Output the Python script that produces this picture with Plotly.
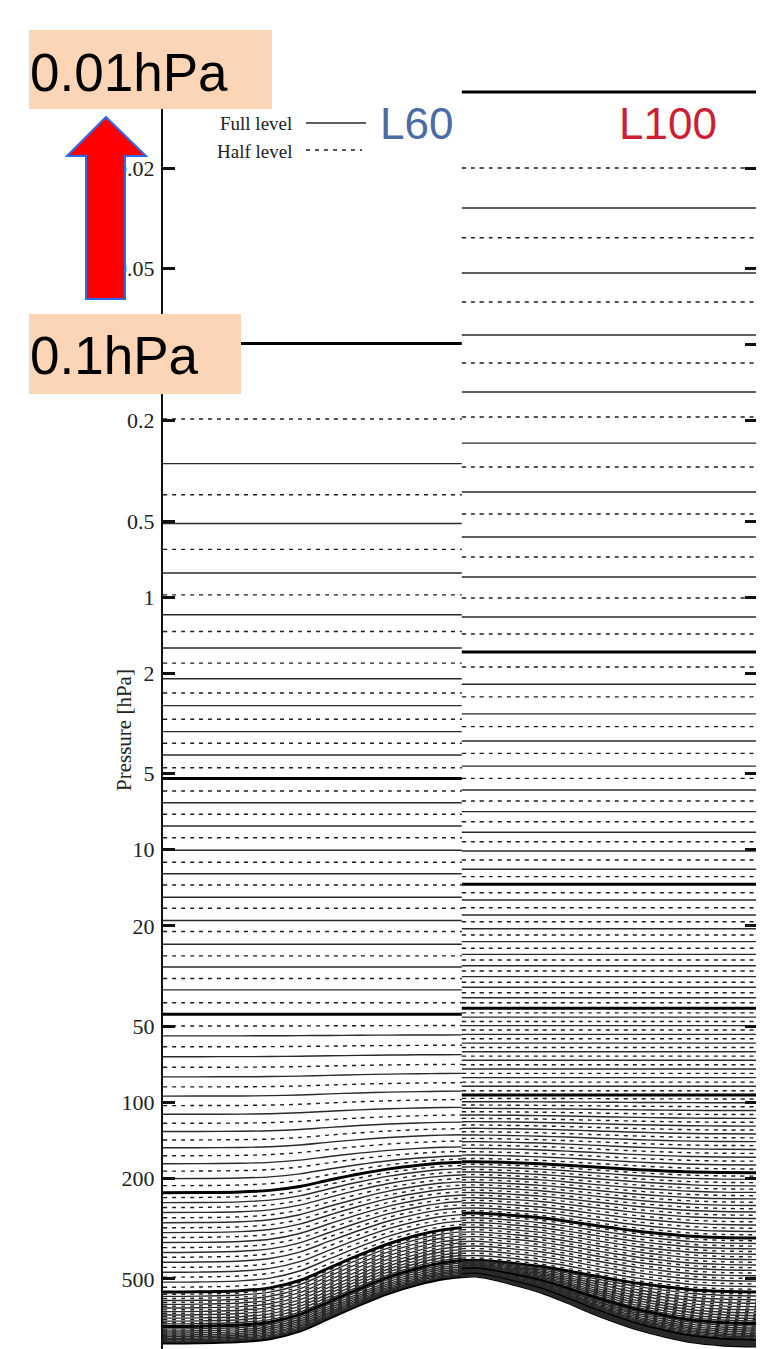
import math
import plotly.graph_objects as go

# ---------------- data ----------------
# surface pressure [hPa] along the cross-section (x = horizontal position, 0..100)
surf_x = [0, 6, 13, 18, 23, 28, 33, 38, 43, 47, 50.3, 52.5, 55, 59, 63.5, 68, 72, 76, 80, 84.5, 89, 94, 100]
surf_ps = [897, 895, 885.6, 862.3, 805.0, 715.0, 635.0, 570.0, 525.0, 500.0, 490.0, 487.0, 497.0,
           524.7, 562.3, 618.4, 677.5, 735.6, 792.0, 843.5, 887.6, 912.2, 922.5]
panel_split = 50.3          # L60 on the left, L100 on the right
ps_crest = 487.0            # surface pressure at the crest of the hill
l60_ps_edge = 897           # surface pressure at the left edge
l100_ps_edge = 922.5        # surface pressure at the right edge

# L60 full levels (level 60 -> 1): pressure [hPa] at the left edge
l60_full_edge = [0.099, 0.296, 0.511, 0.802, 1.174, 1.589, 2.105, 2.689, 3.408, 4.214,
                 5.227, 6.515, 8.05, 10.04, 12.45, 15.41, 19.06, 23.65, 29.1, 35.87,
                 44.74, 54.54, 65.95, 79.26, 94.44, 111.5, 130.45, 151.3, 174.9, 200.4,
                 227.8, 249.5, 273.1, 299.5, 327.8, 358.9, 392.8, 429.5, 470.8, 515.0,
                 563.9, 586.4, 609.0, 630.5, 652.1, 673.7, 694.3, 715.0, 734.7, 753.4,
                 771.3, 788.2, 804.1, 819.1, 833.2, 846.3, 858.5, 869.7, 880.0, 888.4]
# L60 full levels at the crest of the hill, levels 40 -> 1 (levels 60..41 are pure pressure levels)
l60_full_crest_lower = [44.74, 54.07, 64.72, 76.79, 90.27, 104.6, 119.65, 134.3, 149.8, 162.5,
                        172.1, 182.4, 193.4, 205.7, 218.3, 231.6, 245.8, 260.6, 276.9, 293.7,
                        311.8, 323.7, 335.6, 346.9, 358.3, 369.6, 380.4, 391.4, 401.7, 411.5,
                        420.9, 429.8, 438.1, 446.0, 453.5, 460.4, 466.8, 472.7, 478.1, 482.5]
# L60 half levels (below level 60 ... below level 1 = surface), left edge
l60_half_edge = [0.197, 0.393, 0.647, 0.979, 1.367, 1.824, 2.395, 3.044, 3.788, 4.734,
                 5.852, 7.238, 8.96, 11.2, 13.79, 17.05, 21.07, 26.32, 32.34, 40.35,
                 49.88, 60.25, 72.61, 86.85, 102.99, 121.0, 140.9, 162.7, 187.2, 213.7,
                 238.2, 260.9, 286.3, 313.7, 342.9, 375.8, 410.6, 450.2, 492.4, 539.4,
                 575.2, 597.7, 619.7, 641.3, 662.9, 684.0, 704.7, 724.9, 744.1, 762.4,
                 779.7, 796.2, 811.6, 826.2, 839.7, 852.4, 864.1, 874.9, 884.2, 896.8]
l60_half_crest_lower = [49.64, 59.4, 70.71, 83.53, 97.47, 112.16, 127.02, 142.08, 156.17, 167.32,
                        177.25, 187.95, 199.58, 212.04, 224.98, 238.68, 253.23, 268.8, 285.32, 302.78,
                        317.76, 329.64, 341.23, 352.66, 363.96, 375.06, 385.91, 396.54, 406.62, 416.2,
                        425.34, 434.0, 442.1, 449.8, 456.96, 463.53, 469.74, 475.4, 480.38, 487.0]

# L100 full levels (level 100 -> 1): pressure [hPa] at the right edge
l100_full_edge = [0.01, 0.0288, 0.0521, 0.0916, 0.1542, 0.2455, 0.3836, 0.5781, 0.8325, 1.1983,
                  1.649, 2.211, 2.899, 3.71, 4.666, 5.803, 7.065, 8.527, 10.112, 11.945,
                  13.70, 15.81, 18.13, 20.54, 23.11, 25.94, 28.77, 31.80, 35.03, 38.52,
                  42.45, 45.97, 49.69, 53.79, 58.26, 63.01, 68.15, 73.76, 79.84, 86.4,
                  93.52, 100.35, 107.75, 115.72, 124.15, 133.35, 143.1, 153.61, 164.87, 176.98,
                  190.13, 201.77, 214.16, 227.28, 241.17, 255.98, 271.66, 288.28, 305.9, 324.68,
                  344.58, 361.91, 380.09, 399.21, 419.39, 440.47, 462.58, 485.91, 510.4, 536.07,
                  563.04, 584.0, 604.7, 624.4, 644.1, 662.9, 681.7, 699.5, 717.3, 734.2,
                  751.2, 767.1, 782.1, 797.1, 811.2, 824.3, 836.5, 847.7, 858.0, 867.3,
                  875.8, 883.3, 889.8, 895.5, 901.0, 905.8, 909.9, 913.7, 916.9, 919.7]
# L100 full levels at the crest, levels 60 -> 1 (levels 100..61 are pure pressure levels)
l100_full_crest_lower = [93.52, 99.41, 105.57, 112.21, 119.22, 126.7, 134.67, 143.1, 152.09, 161.65,
                         171.77, 180.01, 188.61, 197.68, 207.15, 217.06, 227.47, 238.42, 249.83, 261.84,
                         274.38, 286.38, 298.91, 312.03, 325.69, 340.03, 354.9, 370.47, 386.74, 403.71,
                         421.43, 425.27, 429.02, 432.61, 436.17, 439.63, 443.04, 446.31, 449.52, 452.6,
                         455.72, 458.61, 461.36, 464.05, 466.61, 469.03, 471.29, 473.28, 475.12, 476.92,
                         478.43, 479.81, 480.95, 481.99, 483.03, 483.88, 484.59, 485.35, 485.91, 486.48]
l100_half_edge = [0.02, 0.03777, 0.06784, 0.1183, 0.1935, 0.3053, 0.4687, 0.6932, 1.0078, 1.3994,
                  1.8912, 2.4822, 3.2559, 4.1545, 5.2157, 6.4104, 7.7474, 9.2956, 10.976, 12.78,
                  14.794, 16.959, 19.267, 21.754, 24.556, 27.317, 30.201, 33.477, 36.805, 40.324,
                  44.213, 47.831, 51.737, 56.023, 60.635, 65.583, 70.958, 76.798, 83.119, 89.959,
                  96.937, 104.05, 111.74, 119.94, 128.75, 138.22, 148.36, 159.24, 170.93, 183.56,
                  195.94, 207.95, 220.72, 234.21, 248.58, 263.83, 279.95, 297.09, 315.3, 334.64,
                  353.23, 370.99, 389.67, 409.3, 429.91, 451.5, 474.27, 498.15, 523.21, 549.59,
                  573.53, 594.34, 614.55, 634.27, 653.51, 672.33, 690.62, 708.42, 725.81, 742.66,
                  759.11, 774.6, 789.62, 804.17, 817.77, 830.42, 842.13, 852.9, 862.7, 871.6,
                  879.5, 886.6, 892.6, 898.3, 903.4, 907.9, 911.8, 915.3, 918.3, 922.5]
l100_half_crest_lower = [96.46, 102.49, 108.89, 115.72, 122.96, 130.68, 138.88, 147.6, 156.87, 166.71,
                         175.89, 184.3, 193.16, 202.41, 212.09, 222.26, 232.93, 244.11, 255.84, 268.1,
                         280.38, 292.63, 305.47, 318.85, 332.86, 347.48, 362.68, 378.62, 395.23, 412.57,
                         423.33, 427.17, 430.82, 434.37, 437.92, 441.33, 444.69, 447.91, 451.04, 454.16,
                         457.19, 459.99, 462.73, 465.33, 467.84, 470.2, 472.29, 474.23, 476.02, 477.68,
                         479.15, 480.38, 481.47, 482.5, 483.45, 484.21, 484.97, 485.63, 486.2, 487.0]

tick_vals = [0.02, 0.05, 0.1, 0.2, 0.5, 1, 2, 5, 10, 20, 50, 100, 200, 500]
# the 0.1 label is hidden behind the "0.1hPa" box in the picture
tick_text = ["0.02", "0.05", "", "0.2", "0.5", "1", "2", "5", "10", "20", "50", "100", "200", "500"]
cut_tick_text = "1000"      # bottom tick label, mostly below the picture's edge

# ---------------- geometry ----------------
# coordinates below are in the reference picture's pixels; the page body adds an 8 px margin
OFF = 8
W, H = 764 - OFF, 1349 - OFF
REF_L, REF_R, REF_T, REF_B = 163, 757, 90, 1349
PX_PER_DECADE = 252.6
Y_REF_TICK = 168            # pixel row of the 0.02 hPa tick


def px(x):
    return (x - REF_L) / (REF_R - REF_L)


def py(y):
    return (REF_B - y) / (REF_B - REF_T)


def with_crest(edge, lower):
    return edge[:len(edge) - len(lower)] + lower


l60_full_crest = with_crest(l60_full_edge, l60_full_crest_lower)
l60_half_crest = with_crest(l60_half_edge, l60_half_crest_lower)
l100_full_crest = with_crest(l100_full_edge, l100_full_crest_lower)
l100_half_crest = with_crest(l100_half_edge, l100_half_crest_lower)

left_idx = [i for i, x in enumerate(surf_x) if x <= panel_split]
right_idx = [i for i, x in enumerate(surf_x) if x >= panel_split]


def profile(p_edge, p_crest, ps_edge, idx):
    xs = [surf_x[i] for i in idx]
    ys = [p_crest + (p_edge - p_crest) * (surf_ps[i] - ps_crest) / (ps_edge - ps_crest) for i in idx]
    return xs, ys


fig = go.Figure()

SOLID = dict(color="#2a2a2a", width=1.4)
THICK = dict(color="#000", width=3)
DASHED = dict(color="#1e1e1e", width=1.4, dash="4px,5px")


def add_levels(edges, crests, ps_edge, idx, nlev, half):
    for k, (pe, pc) in enumerate(zip(edges, crests)):
        xs, ys = profile(pe, pc, ps_edge, idx)
        if half:
            line = THICK if k == len(edges) - 1 else DASHED
        else:
            line = THICK if (nlev - k) % 10 == 0 else SOLID
        fig.add_trace(go.Scatter(x=xs, y=ys, mode="lines",
                                 line=dict(shape="spline", smoothing=0.8, **line),
                                 hoverinfo="skip", showlegend=False))


add_levels(l60_half_edge, l60_half_crest, l60_ps_edge, left_idx, 60, True)
add_levels(l100_half_edge, l100_half_crest, l100_ps_edge, right_idx, 100, True)
add_levels(l60_full_edge, l60_full_crest, l60_ps_edge, left_idx, 60, False)
add_levels(l100_full_edge, l100_full_crest, l100_ps_edge, right_idx, 100, False)

top_log = math.log10(0.02) - (Y_REF_TICK - REF_T) / PX_PER_DECADE
bot_log = math.log10(0.02) + (REF_B - Y_REF_TICK) / PX_PER_DECADE

fig.update_layout(
    width=W, height=H,
    margin=dict(l=REF_L - OFF, r=W - (REF_R - OFF), t=REF_T - OFF, b=0, pad=0),
    paper_bgcolor="white", plot_bgcolor="white",
    showlegend=False,
    xaxis=dict(range=[0, 100], showgrid=False, zeroline=False, showline=False,
               showticklabels=False, ticks="", automargin=False, fixedrange=True),
    yaxis=dict(type="log", range=[bot_log, top_log], showgrid=False, zeroline=False,
               showline=True, linecolor="#111", linewidth=2, mirror="ticks",
               ticks="inside", ticklen=12, tickwidth=2.5, tickcolor="#111",
               tickvals=tick_vals, ticktext=tick_text, ticklabelstandoff=2,
               tickfont=dict(family="Liberation Serif", size=22, color="#222"),
               automargin=False, fixedrange=True),
)

serif = "Liberation Serif"
sans = "Liberation Sans"
ann = []
shapes = []


def text(t, x, y, size, family, color="#222", xanchor="center", angle=0):
    ann.append(dict(text=t, x=px(x), y=py(y), xref="paper", yref="paper", xanchor=xanchor,
                    yanchor="middle", textangle=angle, showarrow=False,
                    font=dict(family=family, size=size, color=color)))


# cut-off bottom tick label
text(cut_tick_text, 154, 1355, 22, serif, xanchor="right")
# axis title
text("Pressure [hPa]", 124, 730, 21, serif, angle=-90)
# legend
text("Full level", 294, 124, 19, serif, xanchor="right")
text("Half level", 294, 151, 19, serif, xanchor="right")
shapes.append(dict(type="line", xref="paper", yref="paper", x0=px(306), x1=px(366), y0=py(123), y1=py(123),
                   line=SOLID))
shapes.append(dict(type="line", xref="paper", yref="paper", x0=px(306), x1=px(362), y0=py(150), y1=py(150),
                   line=DASHED))
# model labels
text("L60", 416, 124, 44, sans, color="#4b6aa6")
text("L100", 668, 124, 44, sans, color="#cc1f33")

# peach boxes
box_fill = "#FBD5B5"
shapes.append(dict(type="rect", xref="paper", yref="paper", x0=px(29), x1=px(272), y0=py(109), y1=py(30),
                   fillcolor=box_fill, line=dict(width=0), layer="above"))
shapes.append(dict(type="rect", xref="paper", yref="paper", x0=px(29), x1=px(241), y0=py(394), y1=py(314),
                   fillcolor=box_fill, line=dict(width=0), layer="above"))
text("0.01hPa", 28, 72, 53, sans, color="#000", xanchor="left")
text("0.1hPa", 28, 355, 53, sans, color="#000", xanchor="left")

# red arrow with blue outline
arrow_pts = [(106, 117), (146, 156), (125, 156), (125, 299), (86, 299), (86, 156), (67, 156)]
path = "M " + " L ".join(f"{px(a):.5f},{py(b):.5f}" for a, b in arrow_pts) + " Z"
shapes.append(dict(type="path", xref="paper", yref="paper", path=path, fillcolor="#FF0000",
                   line=dict(color="#2a6cf0", width=2), layer="above"))

fig.update_layout(annotations=ann, shapes=shapes)
fig.write_html("out.html")
